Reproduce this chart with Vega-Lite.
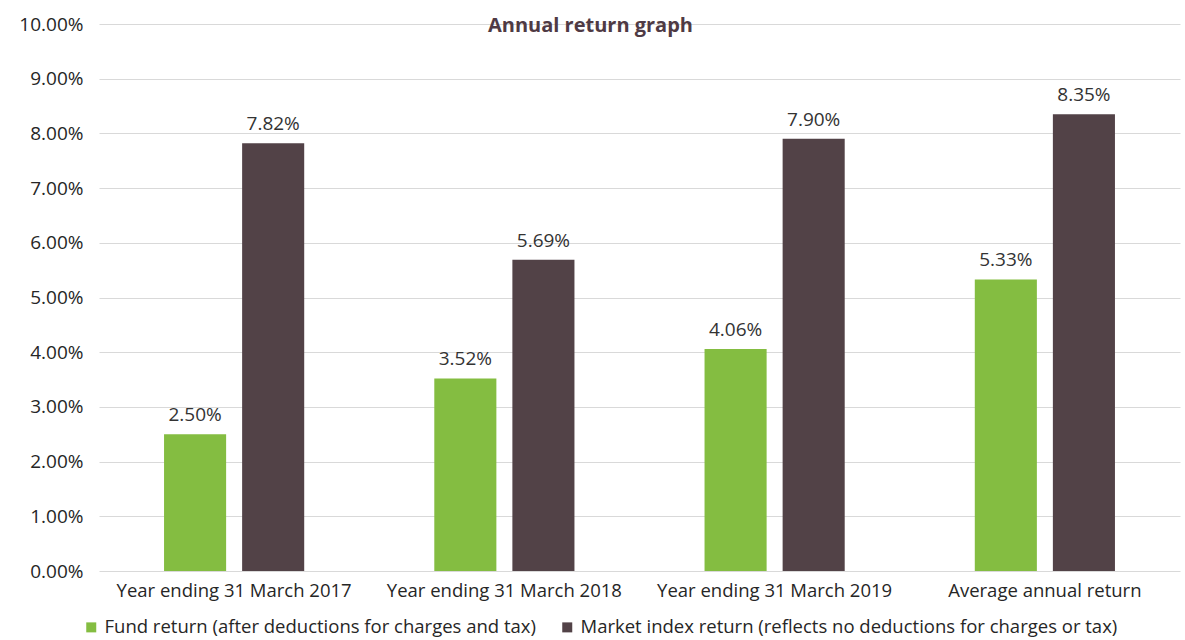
{
  "$schema": "https://vega.github.io/schema/vega-lite/v6.json",
  "autosize": {"type": "none"},
  "width": 1081,
  "height": 547,
  "padding": {"left": 99, "top": 24, "right": 5, "bottom": 69},
  "background": "white",
  "title": {
    "text": "Annual return graph",
    "anchor": "middle",
    "frame": "group",
    "baseline": "middle",
    "offset": -31,
    "dx": -49,
    "font": "Open Sans",
    "fontSize": 20,
    "fontWeight": "bold",
    "color": "#4F3A44"
  },
  "data": {
    "values": [
      {"period": "Year ending 31 March 2017", "series": "Fund return (after deductions for charges and tax)", "value": 0.025},
      {"period": "Year ending 31 March 2017", "series": "Market index return (reflects no deductions for charges or tax)", "value": 0.0782},
      {"period": "Year ending 31 March 2018", "series": "Fund return (after deductions for charges and tax)", "value": 0.0352},
      {"period": "Year ending 31 March 2018", "series": "Market index return (reflects no deductions for charges or tax)", "value": 0.0569},
      {"period": "Year ending 31 March 2019", "series": "Fund return (after deductions for charges and tax)", "value": 0.0406},
      {"period": "Year ending 31 March 2019", "series": "Market index return (reflects no deductions for charges or tax)", "value": 0.079},
      {"period": "Average annual return", "series": "Fund return (after deductions for charges and tax)", "value": 0.0533},
      {"period": "Average annual return", "series": "Market index return (reflects no deductions for charges or tax)", "value": 0.0835}
    ]
  },
  "encoding": {
    "x": {
      "field": "period",
      "type": "nominal",
      "sort": null,
      "scale": {"paddingInner": 0, "paddingOuter": 0},
      "axis": {
        "title": null,
        "labelAngle": 0,
        "labelFont": "Open Sans",
        "labelFontSize": 18.5,
        "labelColor": "#262626",
        "labelPadding": 10,
        "labelLimit": 300,
        "ticks": false,
        "domain": false
      }
    },
    "xOffset": {
      "field": "series",
      "type": "nominal",
      "sort": null,
      "scale": {"paddingInner": 0.205, "paddingOuter": 0.833}
    },
    "y": {
      "field": "value",
      "type": "quantitative",
      "scale": {"domain": [0, 0.1], "nice": false},
      "axis": {
        "title": null,
        "format": ".2%",
        "values": [0, 0.01, 0.02, 0.03, 0.04, 0.05, 0.06, 0.07, 0.08, 0.09, 0.1],
        "labelFont": "Open Sans",
        "labelFontSize": 19,
        "labelColor": "#262626",
        "labelPadding": 16,
        "ticks": false,
        "domain": false,
        "grid": true,
        "gridColor": "#d9d9d9",
        "gridWidth": 1
      }
    }
  },
  "layer": [
    {
      "mark": {"type": "bar"},
      "encoding": {
        "color": {
          "field": "series",
          "type": "nominal",
          "sort": null,
          "scale": {"range": ["#84BD41", "#524247"]},
          "legend": {
            "title": null,
            "orient": "none",
            "direction": "horizontal",
            "legendX": -17,
            "legendY": 594,
            "symbolType": "square",
            "symbolSize": 100,
            "symbolStrokeWidth": 0,
            "labelFont": "Open Sans",
            "labelFontSize": 18.5,
            "labelColor": "#262626",
            "labelLimit": 600,
            "labelOffset": 4,
            "columnPadding": 22
          }
        }
      }
    },
    {
      "mark": {"type": "text", "baseline": "bottom", "dy": -9, "font": "Open Sans", "fontSize": 19, "color": "#333333"},
      "encoding": {
        "text": {"field": "value", "type": "quantitative", "format": ".2%"}
      }
    }
  ],
  "config": {"view": {"stroke": null}}
}
